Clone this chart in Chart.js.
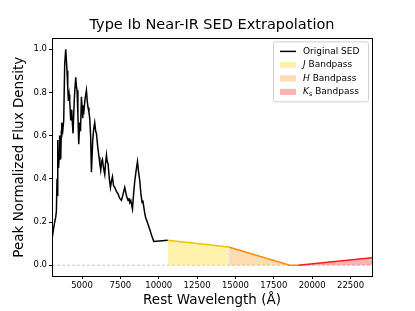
<!DOCTYPE html>
<html>
<head>
<meta charset="utf-8">
<script src="https://cdn.jsdelivr.net/npm/chart.js@4.4.0/dist/chart.umd.min.js"></script>
<style>
  html, body { margin:0; padding:0; background:#fff; }
  #wrap { width:415px; height:311px; }
</style>
</head>
<body>
<div id="wrap"><canvas id="sed" width="415" height="311"></canvas></div>
<script>
'use strict';

/* axis limits + ticks */
const xMin = 3043, xMax = 23900;
const yMin = -0.05, yMax = 1.05;
const xTicks = [5000, 7500, 10000, 12500, 15000, 17500, 20000, 22500];
const yTicks = [0, 0.2, 0.4, 0.6, 0.8, 1.0];

/* original SED */
const sedWave = [3043,3150,3219,3280,3330,3370,3400,3434,3470,3500,3540,3565,3611,3650,3676,3741,3806,3871,3937,3980,
  4022,4070,4113,4160,4198,4263,4328,4370,4413,4504,4589,4630,4674,4730,4785,4850,4900,4961,5046,5090,
  5130,5200,5287,5340,5391,5450,5502,5560,5613,5698,5760,5828,5890,5939,6020,6109,6160,6220,6280,6331,
  6400,6481,6530,6592,6640,6696,6780,6853,6920,6983,7050,7133,7250,7348,7450,7570,7680,7785,7900,8001,
  8060,8111,8177,8230,8288,8360,8438,8530,8614,8690,8764,8840,8914,8960,9025,9090,9150,9201,9300,9416,
  9550,9677,10580];
const sedFlux = [0.12,0.17,0.20,0.22,0.25,0.40,0.32,0.58,0.45,0.49,0.60,0.59,0.49,0.62,0.66,0.62,0.67,0.93,1.00,0.95,
  0.90,0.82,0.76,0.79,0.76,0.67,0.72,0.66,0.61,0.78,0.87,0.83,0.81,0.70,0.56,0.66,0.62,0.78,0.68,0.74,
  0.72,0.77,0.81,0.76,0.73,0.71,0.68,0.60,0.43,0.58,0.63,0.66,0.62,0.61,0.55,0.50,0.47,0.44,0.48,0.49,
  0.45,0.42,0.47,0.51,0.48,0.47,0.40,0.36,0.39,0.41,0.37,0.36,0.34,0.33,0.31,0.30,0.33,0.36,0.32,0.30,
  0.31,0.29,0.30,0.28,0.26,0.33,0.39,0.44,0.48,0.43,0.39,0.33,0.29,0.30,0.27,0.24,0.22,0.21,0.19,0.165,
  0.135,0.11,0.115];

/* extrapolated bandpass segments */
const jWave  = [10580, 14550];
const jFlux  = [0.115, 0.084];
const hWave  = [14550, 18550, 19090];
const hFlux  = [0.084, 0.0, 0.0];
const ksWave = [19090, 23900];
const ksFlux = [0.0, 0.035];

const colJ = '#f0c000', colH = '#ff8c00', colK = '#ff1a1a';
const fillJ = 'rgba(255,215,0,0.32)', fillH = 'rgba(255,140,0,0.3)', fillK = 'rgba(255,0,0,0.3)';

const pts = (xs, ys) => xs.map((x, i) => ({ x, y: ys[i] }));

const FONT = "'DejaVu Sans', sans-serif";

/* frame on all four sides like matplotlib spines */
const framePlugin = {
  id: 'frame',
  afterDatasetsDraw(chart) {
    const { ctx, chartArea: a } = chart;
    ctx.save();
    ctx.strokeStyle = '#000';
    ctx.lineWidth = 1;
    ctx.strokeRect(Math.round(a.left) + 0.5, Math.round(a.top) + 0.5,
      Math.round(a.right - a.left), Math.round(a.bottom - a.top));
    ctx.restore();
  }
};

/* legend with italic band letters and subscript */
const legendItems = [
  { kind: 'line',  color: '#000', parts: [['Original SED', 'n']] },
  { kind: 'patch', color: fillJ,  parts: [['J', 'i'], [' Bandpass', 'n']] },
  { kind: 'patch', color: fillH,  parts: [['H', 'i'], [' Bandpass', 'n']] },
  { kind: 'patch', color: fillK,  parts: [['K', 'i'], ['s', 'sub'], [' Bandpass', 'n']] },
];
const legendPlugin = {
  id: 'texLegend',
  afterDraw(chart) {
    const { ctx, chartArea: a } = chart;
    const boxW = 95, boxH = 60;
    const bx = a.right - 4 - boxW, by = a.top + 3;
    ctx.save();
    ctx.fillStyle = 'rgba(255,255,255,0.8)';
    ctx.strokeStyle = '#d0d0d0';
    ctx.lineWidth = 1;
    ctx.beginPath();
    ctx.roundRect(bx + 0.5, by + 0.5, boxW, boxH, 2);
    ctx.fill();
    ctx.stroke();
    ctx.textBaseline = 'middle';
    legendItems.forEach((it, i) => {
      const cy = by + 10 + i * 13.5;
      const hx = bx + 7;
      if (it.kind === 'line') {
        ctx.strokeStyle = it.color; ctx.lineWidth = 1.5;
        ctx.beginPath(); ctx.moveTo(hx, cy); ctx.lineTo(hx + 16, cy); ctx.stroke();
      } else {
        ctx.fillStyle = it.color;
        ctx.fillRect(hx, cy - 3, 16, 6);
      }
      let tx = hx + 23;
      ctx.fillStyle = '#000';
      it.parts.forEach(([t, style]) => {
        if (style === 'sub') {
          ctx.font = `6.5px ${FONT}`;
          ctx.fillText(t, tx, cy + 2.5);
        } else {
          ctx.font = `${style === 'i' ? 'oblique ' : ''}9px ${FONT}`;
          ctx.fillText(t, tx, cy);
        }
        tx += ctx.measureText(t).width;
      });
    });
    ctx.restore();
  }
};

new Chart(document.getElementById('sed'), {
  type: 'line',
  data: {
    datasets: [
      { label: 'zero', data: pts([xMin, xMax], [0, 0]), borderColor: '#c8c8c8', borderWidth: 1,
        borderDash: [3, 2], pointRadius: 0, fill: false, order: 5 },
      { label: 'Original SED', data: pts(sedWave, sedFlux), borderColor: '#000', borderWidth: 1.5,
        pointRadius: 0, fill: false, tension: 0, order: 1 },
      { label: 'J Bandpass', data: pts(jWave, jFlux), borderColor: colJ, backgroundColor: fillJ,
        borderWidth: 1.5, pointRadius: 0, fill: 'origin', order: 2 },
      { label: 'H Bandpass', data: pts(hWave, hFlux), borderColor: colH, backgroundColor: fillH,
        borderWidth: 1.5, pointRadius: 0, fill: 'origin', order: 3 },
      { label: 'Ks Bandpass', data: pts(ksWave, ksFlux), borderColor: colK, backgroundColor: fillK,
        borderWidth: 1.5, pointRadius: 0, fill: 'origin', order: 4 },
    ]
  },
  options: {
    responsive: false,
    animation: false,
    parsing: false,
    layout: { padding: { left: 9, right: 0, top: 0, bottom: 0 } },
    plugins: {
      legend: { display: false },
      tooltip: { enabled: false },
      title: {
        display: true,
        text: 'Type Ib Near-IR SED Extrapolation',
        color: '#000',
        font: { family: FONT, size: 14.5, weight: 'normal' },
        padding: { top: 17, bottom: 4 }
      }
    },
    scales: {
      x: {
        type: 'linear', min: xMin, max: xMax,
        afterBuildTicks: s => { s.ticks = xTicks.map(v => ({ value: v })); },
        afterFit: s => { s.height = 35; },
        grid: { display: true, drawOnChartArea: false, drawTicks: true, tickLength: 3, color: '#000' },
        border: { display: false },
        ticks: { color: '#000', font: { family: FONT, size: 8.5 }, padding: 2, maxRotation: 0,
                 callback: v => String(v) },
        title: { display: true, text: 'Rest Wavelength (Å)', color: '#000',
                 font: { family: FONT, size: 13.5 }, padding: { top: 0, bottom: 2 } }
      },
      y: {
        type: 'linear', min: yMin, max: yMax,
        afterBuildTicks: s => { s.ticks = yTicks.map(v => ({ value: v })); },
        afterFit: s => { s.width = 43; },
        grid: { display: true, drawOnChartArea: false, drawTicks: true, tickLength: 3, color: '#000' },
        border: { display: false },
        ticks: { color: '#000', font: { family: FONT, size: 8.5 }, padding: 2,
                 callback: v => Number(v).toFixed(1) },
        title: { display: true, text: 'Peak Normalized Flux Density', color: '#000',
                 font: { family: FONT, size: 13.5 }, padding: { top: 2, bottom: 0 } }
      },
      /* empty right-hand strip so the plot ends where the reference does */
      yPad: {
        type: 'linear', position: 'right', min: yMin, max: yMax,
        afterFit: s => { s.width = 43; },
        grid: { display: false }, border: { display: false },
        ticks: { display: false }
      }
    }
  },
  plugins: [framePlugin, legendPlugin]
});
</script>
</body>
</html>
